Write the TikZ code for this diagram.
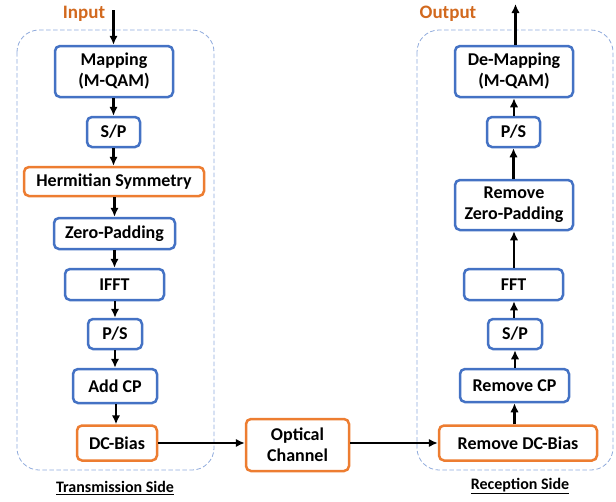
\documentclass[tikz,border=0pt]{standalone}
\usepackage{fontspec}
\setmainfont{Carlito}
\usetikzlibrary{arrows.meta}
\definecolor{boxblue}{HTML}{4472C4}
\definecolor{boxorange}{HTML}{ED7D31}
\definecolor{labelorange}{HTML}{D2691E}
\definecolor{sideblue}{HTML}{8FAADC}
\tikzset{
  blk/.style={draw=boxblue, line width=2.5pt, rounded corners=5pt, fill=white,
    font=\fontsize{18}{21}\selectfont\bfseries, align=center, inner sep=0pt},
  oblk/.style={blk, draw=boxorange},
  flow/.style={draw=black, line width=2.6pt, -{Latex[length=9pt,width=8.5pt]}},
  side/.style={draw=sideblue, line width=0.8pt, dash pattern=on 4.5pt off 2.5pt, rounded corners=22pt},
  io/.style={text=labelorange, font=\fontsize{19}{21}\selectfont\bfseries},
  caption/.style={font=\fontsize{16}{18}\selectfont\bfseries}
}
\begin{document}
\begin{tikzpicture}[x=1pt, y=-1pt]
\useasboundingbox (0,0) rectangle (616,501);

% transmitter and receiver enclosures
\draw[side] (17,30) rectangle (214,470);
\draw[side] (417,30) rectangle (613,470);

% transmission chain
\node[blk]  (map)  at (114,71.5)  [minimum width=118pt, minimum height=51pt] {Mapping\\(M-QAM)};
\node[blk]  (sp1)  at (113.5,132) [minimum width=53pt,  minimum height=30pt] {S/P};
\node[oblk] (herm) at (114,181.5) [minimum width=180pt, minimum height=29pt] {Hermitian Symmetry};
\node[blk]  (zp)   at (114.5,233.5) [minimum width=121pt, minimum height=31pt] {Zero-Padding};
\node[blk]  (ifft) at (114.5,284.5) [minimum width=99pt, minimum height=31pt] {IFFT};
\node[blk]  (ps1)  at (115,334)   [minimum width=54pt,  minimum height=30pt] {P/S};
\node[blk]  (acp)  at (115,386)   [minimum width=84pt,  minimum height=34pt] {Add CP};
\node[oblk] (dc)   at (117,443)   [minimum width=80pt,  minimum height=35pt] {DC-Bias};

% channel
\node[oblk] (opt)  at (297.5,445) [minimum width=103pt, minimum height=52pt] {Optical\\Channel};

% reception chain
\node[blk]  (dmap) at (514,71.5)  [minimum width=118pt, minimum height=51pt] {De-Mapping\\(M-QAM)};
\node[blk]  (ps2)  at (513.5,132) [minimum width=53pt,  minimum height=30pt] {P/S};
\node[blk]  (rzp)  at (514,205)   [minimum width=118pt, minimum height=50pt] {Remove\\Zero-Padding};
\node[blk]  (fft)  at (513.5,284.5) [minimum width=99pt, minimum height=31pt] {FFT};
\node[blk]  (sp2)  at (515,334)   [minimum width=54pt,  minimum height=30pt] {S/P};
\node[blk]  (rcp)  at (514.5,385.5) [minimum width=109pt, minimum height=33pt] {Remove CP};
\node[oblk] (rdc)  at (518,443)   [minimum width=158pt, minimum height=35pt] {Remove DC-Bias};

% input / output labels
\node[io] (inlbl)  at (84,14)  {Input};
\node[io] (outlbl) at (448,14) {Output};
\coordinate (inpt)  at (113.5,10);
\coordinate (outpt) at (515.5,4);

% side captions
\node[caption] (txcap) at (115,488) {\underline{Transmission Side}};
\node[caption] (rxcap) at (520,486) {\underline{Reception Side}};

% transmitter arrows
\draw[flow] (inpt) -- (inpt |- map.north);
\draw[flow] (map.south -| sp1) -- (sp1.north);
\draw[flow] (sp1.south) -- (sp1.south |- herm.north);
\draw[flow] (herm.south -| zp) -- (zp.north);
\draw[flow] (zp.south) -- (zp.south |- ifft.north);
\draw[flow] (ifft.south -| ps1) -- (ps1.north);
\draw[flow] (ps1.south) -- (ps1.south |- acp.north);
\draw[flow] (acp.south -| 116,0) -- (116,0 |- dc.north);

% link through the channel
\draw[flow] (dc.east) -- (dc.east -| opt.west);
\draw[flow] (opt.east |- rdc) -- (rdc.west);

% receiver arrows
\draw[flow] (rdc.north -| rcp) -- (rcp.south);
\draw[flow] (rcp.north -| sp2) -- (sp2.south);
\draw[flow] (sp2.north -| 514,0) -- (514,0 |- fft.south);
\draw[flow] (fft.north -| rzp) -- (rzp.south);
\draw[flow] (rzp.north -| ps2) -- (ps2.south);
\draw[flow] (ps2.north -| 514,0) -- (514,0 |- dmap.south);
\draw[flow] (dmap.north -| outpt) -- (outpt);
\end{tikzpicture}
\end{document}
